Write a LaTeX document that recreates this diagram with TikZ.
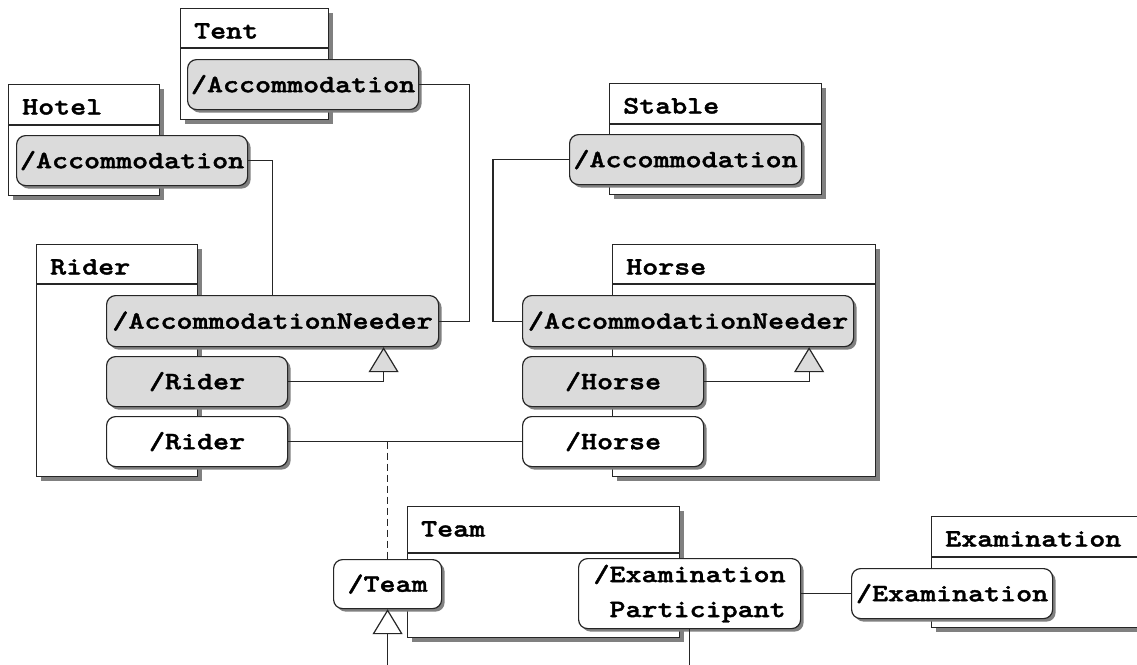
\documentclass[tikz,border=0pt]{standalone}
\usepackage{fontspec}
\usetikzlibrary{shadows,arrows.meta}
\newfontfamily\diagfont{lmmonolt10-bold.otf}[FakeStretch=1.22, FakeBold=1.6]
\newcommand\umlfont{\diagfont\fontsize{25pt}{35pt}\selectfont}

\tikzset{
  uml/.style={line width=1.2pt, draw=black!85},
  classbox/.style={uml, fill=white, anchor=north west, inner sep=0pt,
    drop shadow={shadow xshift=4pt, shadow yshift=-4pt, fill=black!50, opacity=1}},
  classname/.style={anchor=base west, inner sep=0pt, font=\umlfont},
  port/.style={uml, fill=white, rounded corners=9pt, anchor=north west, inner sep=0pt,
    minimum height=50pt, font=\umlfont,
    drop shadow={shadow xshift=3pt, shadow yshift=-3pt, fill=black!50, opacity=1}},
  role/.style={port, fill=black!14},
  gen/.style={uml, -{Triangle[length=25pt, width=30pt, fill=black!14, line width=1.2pt]}},
}

\begin{document}
\begin{tikzpicture}[x=1pt, y=-1pt]
  \useasboundingbox (0,0) rectangle (1137,664);
  \clip (0,0) rectangle (1137,664);

  % classes
  \node[classbox, minimum width=151pt, minimum height=111pt] (hotel) at (8,84) {};
  \node[classbox, minimum width=148pt, minimum height=111pt] (tent) at (180,8) {};
  \node[classbox, minimum width=212pt, minimum height=111pt] (stable) at (609,83) {};
  \node[classbox, minimum width=161pt, minimum height=232pt] (rider) at (36,244) {};
  \node[classbox, minimum width=263pt, minimum height=232pt] (horse) at (612,244) {};
  \node[classbox, minimum width=272pt, minimum height=131pt] (team) at (407,506) {};
  \node[classbox, minimum width=240pt, minimum height=111pt] (exam) at (931,516) {};
  \foreach \c/\n/\d in {hotel/Hotel/41, tent/Tent/40, stable/Stable/41, rider/Rider/40,
      horse/Horse/40, team/Team/47, exam/Examination/41} {
    \draw[uml] ([yshift=-\d pt]\c.north west) -- ([yshift=-\d pt]\c.north east);
    \node[classname] (\c name) at ([xshift=14pt, yshift=-30.5pt]\c.north west) {\n};
  }

  % ports
  \node[role, minimum width=231pt] (hotelacc) at (16,135) {/Accommodation};
  \node[role, minimum width=231pt] (tentacc) at (187,59) {/Accommodation};
  \node[role, minimum width=232pt] (stableacc) at (569,134) {/Accommodation};
  \node[role, minimum width=332pt, minimum height=51pt] (riderneeder) at (106,295) {/AccommodationNeeder};
  \node[role, minimum width=181pt] (riderrole) at (106,356) {/Rider};
  \node[port, minimum width=181pt] (riderplain) at (106,416) {/Rider};
  \node[role, minimum width=331pt, minimum height=51pt] (horseneeder) at (522,295) {/AccommodationNeeder};
  \node[role, minimum width=181pt] (horserole) at (522,356) {/Horse};
  \node[port, minimum width=181pt] (horseplain) at (522,416) {/Horse};
  \node[port, minimum width=108pt, minimum height=49pt] (teamrole) at (333,559) {/Team};
  \node[port, minimum width=222pt, minimum height=70pt, align=left] (exampart) at (578,558)
    {/Examination\\\phantom{/}Participant};
  \node[port, minimum width=201pt] (examrole) at (851,568) {/Examination};
  \coordinate (teamfoot) at ([yshift=-80pt]teamrole.south);
  \coordinate (partfoot) at ([yshift=-60pt]exampart.south);

  % connectors
  \draw[uml] (hotelacc.east) -| (riderneeder.north);
  \draw[uml] (tentacc.east) -| ([xshift=30pt]riderneeder.east) -- (riderneeder.east);
  \draw[uml] (stableacc.west) -| ([xshift=-29pt]horseneeder.west) -- (horseneeder.west);
  \draw[gen] (riderrole.east) -| ([xshift=111pt]riderneeder.south);
  \draw[gen] (horserole.east) -| ([xshift=121pt]horseneeder.south);
  \draw[uml] (riderplain.east) -- (horseplain.west);
  \draw[uml, dash pattern=on 7pt off 4pt] (teamrole.north |- riderplain.east) -- (teamrole.north);
  \draw[uml, -{Triangle[length=25pt, width=30pt, fill=white, line width=1.2pt]}] (teamfoot) -- (teamrole.south);
  \draw[uml] (exampart.east) -- (examrole.west);
  \draw[uml] (exampart.south) -- (partfoot);
\end{tikzpicture}
\end{document}
